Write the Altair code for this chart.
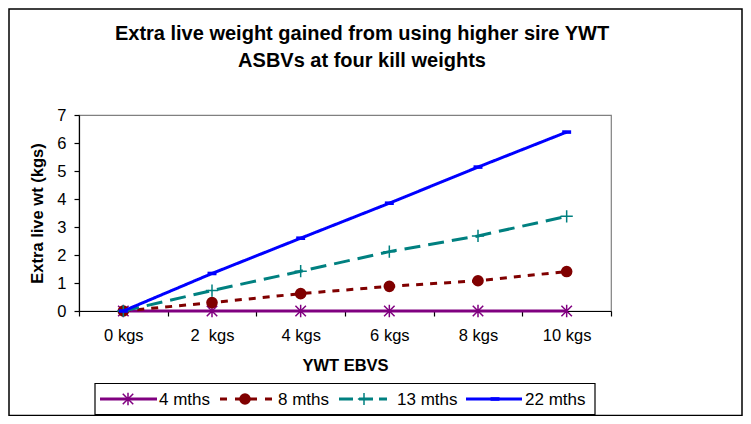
import altair as alt
import pandas as pd

# ---- data ----
categories = ["0 kgs", "2  kgs", "4 kgs", "6 kgs", "8 kgs", "10 kgs"]
series_names = ["4 mths", "8 mths", "13 mths", "22 mths"]
m4 = [0, 0, 0, 0, 0, 0]
m8 = [0, 0.30, 0.62, 0.88, 1.08, 1.41]
m13 = [0, 0.73, 1.42, 2.12, 2.68, 3.38]
m22 = [0, 1.34, 2.60, 3.85, 5.14, 6.39]
title_lines = ["Extra live weight gained from using higher sire YWT",
               "ASBVs at four kill weights"]

values = {"4 mths": m4, "8 mths": m8, "13 mths": m13, "22 mths": m22}
rows = []
for s in series_names:
    for c, v in zip(categories, values[s]):
        rows.append({"series": s, "cat": c, "val": v})
df = pd.DataFrame(rows)

FONT = "Liberation Sans"
colors = ["#800080", "#800000", "#008080", "#0000FF"]
dashes = [[1, 0], [7, 7], [16, 8], [1, 0]]
color_scale = alt.Scale(domain=series_names, range=colors)
dash_scale = alt.Scale(domain=series_names, range=dashes)

# marker styles per series
shapes = {
    "4 mths": ("M-1,-1L1,1M-1,1L1,-1M0,-1.2V1.2", False, 110, 1.5),
    "8 mths": ("circle", True, 135, 0),
    "13 mths": ("M-1,0H1M0,-1V1", False, 150, 1.5),
    "22 mths": ("M-1,-0.4H1V0.4H-1Z", True, 80, 0),
}

xenc = alt.X("cat:N", sort=categories, bandPosition=0.5,
             scale=alt.Scale(type="band", paddingInner=0, paddingOuter=0),
             axis=alt.Axis(title="YWT EBVS", labelAngle=0, tickBand="extent",
                           labelExpr="replace(datum.label, '  ', '\u00a0 ')",
                           tickSize=5, labelPadding=11, titlePadding=14,
                           labelFontSize=16.5, titleFontSize=16.5))
yenc = alt.Y("val:Q", scale=alt.Scale(domain=[0, 7], nice=False),
             axis=alt.Axis(title="Extra live wt (kgs)", values=list(range(8)),
                           grid=False, tickSize=5, labelPadding=8,
                           titlePadding=11, labelFontSize=16.5,
                           titleFontSize=16.5))

frame_df = pd.DataFrame({"a": [0]})
layers = []
# outer chart frame
layers.append(alt.Chart(frame_df).mark_rect(fillOpacity=0, stroke="black",
                                             strokeWidth=1.5).encode(
    x=alt.value(-70), x2=alt.value(663), y=alt.value(-106), y2=alt.value(300.5)))

# chart title
for i, line in enumerate(title_lines):
    layers.append(alt.Chart(pd.DataFrame({"t": [line]})).mark_text(
        align="center", baseline="alphabetic", font=FONT, fontSize=20,
        fontWeight="bold", color="black").encode(
        x=alt.value(283), y=alt.value(-75 + 26.5 * i), text="t:N"))

for s in series_names:
    sub = df[df["series"] == s]
    base = alt.Chart(sub)
    layers.append(base.mark_line(strokeWidth=3, strokeCap="butt").encode(
        x=xenc, y=yenc,
        color=alt.Color("series:N", scale=color_scale, legend=None),
        strokeDash=alt.StrokeDash("series:N", scale=dash_scale, legend=None)))
    shp, filled, size, sw = shapes[s]
    kw = dict(shape=shp, filled=filled, size=size, opacity=1)
    if not filled:
        kw["strokeWidth"] = sw
    layers.append(base.mark_point(**kw).encode(
        x=xenc, y=yenc,
        color=alt.Color("series:N", scale=color_scale, legend=None)))

# legend (built from the series list)
layers.append(alt.Chart(frame_df).mark_rect(fill="white", stroke="black",
                                             strokeWidth=1.2).encode(
    x=alt.value(16), x2=alt.value(516), y=alt.value(268.5), y2=alt.value(299.5)))
leg_pos = {
    "4 mths": (21, 78, 49, 80),
    "8 mths": (141, 194, 166, 199),
    "13 mths": (260, 308, 285, 318),
    "22 mths": (387, 443, 416, 446),
}
leg_dash = {"4 mths": [1, 0], "8 mths": [7, 8], "13 mths": [14, 6], "22 mths": [1, 0]}
LY = 284
for s in series_names:
    x1, x2, xm, xt = leg_pos[s]
    ld = pd.DataFrame({"series": [s]})
    b = alt.Chart(ld)
    layers.append(b.mark_rule(strokeWidth=3, strokeDash=leg_dash[s]).encode(
        x=alt.value(x1), x2=alt.value(x2), y=alt.value(LY),
        color=alt.Color("series:N", scale=color_scale, legend=None)))
    shp, filled, size, sw = shapes[s]
    kw = dict(shape=shp, filled=filled, size=size, opacity=1)
    if not filled:
        kw["strokeWidth"] = sw
    layers.append(b.mark_point(**kw).encode(
        x=alt.value(xm), y=alt.value(LY),
        color=alt.Color("series:N", scale=color_scale, legend=None)))
    layers.append(b.mark_text(align="left", baseline="middle", font=FONT,
                              fontSize=17, color="black").encode(
        x=alt.value(xt), y=alt.value(LY + 1), text="series:N"))

chart = alt.layer(*layers).properties(
    width=532, height=196,
    autosize=alt.AutoSizeParams(type="none"),
    padding={"left": 71, "top": 107, "right": 132, "bottom": 105},
).configure_view(stroke="#808080", strokeWidth=1.2).configure_axis(
    labelFont=FONT, titleFont=FONT, labelColor="black", titleColor="black",
    domainColor="black", tickColor="black", titleFontWeight="bold",
    domainWidth=1.2, tickWidth=1.2,
)

chart.save("out.html", embed_options={"renderer": "svg", "actions": False})
